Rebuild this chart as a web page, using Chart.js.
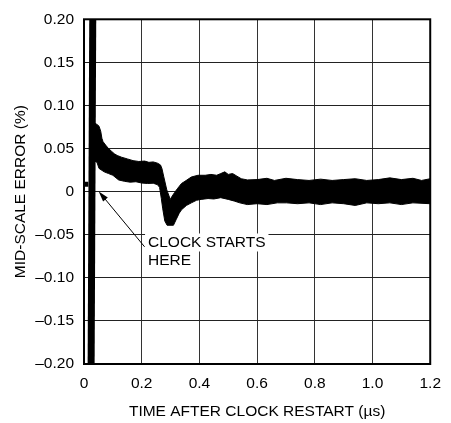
<!DOCTYPE html>
<html>
<head>
<meta charset="utf-8">
<script src="https://cdn.jsdelivr.net/npm/chart.js@4/dist/chart.umd.min.js"></script>
<style>
  html, body { margin: 0; padding: 0; background: #fff; }
  #wrap { width: 451px; height: 423px; }
</style>
</head>
<body>
<div id="wrap"><canvas id="c" width="451" height="423"></canvas></div>
<script>
// tick labels
const xTickLabels = ['0', '0.2', '0.4', '0.6', '0.8', '1.0', '1.2'];
const yTickLabels = ['\u20130.20', '\u20130.15', '\u20130.10', '\u20130.05', '0', '0.05', '0.10', '0.15', '0.20'];

// glitch when the clock restarts (runs off both ends of the scale)
const spikeX = [0.024, 0.031];
const spikeY = [-0.25, 0.25];

// upper edge of the noisy trace (time µs, error %)
const upperX = [0.034, 0.045, 0.052, 0.058, 0.062, 0.066, 0.075, 0.085, 0.095, 0.105, 0.115, 0.13, 0.15, 0.17, 0.19, 0.21, 0.225, 0.24, 0.255, 0.265, 0.27, 0.276, 0.287, 0.299, 0.306, 0.314, 0.325, 0.338, 0.35, 0.372, 0.395, 0.42, 0.44, 0.46, 0.474, 0.488, 0.50, 0.515, 0.53, 0.545, 0.566, 0.60, 0.634, 0.66, 0.70, 0.74, 0.78, 0.82, 0.86, 0.90, 0.94, 0.98, 1.02, 1.06, 1.10, 1.14, 1.17, 1.2];
const upperY = [0.080, 0.078, 0.076, 0.070, 0.062, 0.058, 0.054, 0.050, 0.047, 0.044, 0.042, 0.040, 0.038, 0.036, 0.035, 0.0355, 0.034, 0.0345, 0.033, 0.031, 0.027, 0.018, 0.002, -0.009, -0.005, -0.001, 0.004, 0.0095, 0.012, 0.017, 0.019, 0.019, 0.020, 0.019, 0.021, 0.023, 0.020, 0.021, 0.018, 0.015, 0.0136, 0.014, 0.0155, 0.013, 0.0155, 0.014, 0.013, 0.0145, 0.013, 0.014, 0.015, 0.013, 0.014, 0.016, 0.014, 0.0155, 0.013, 0.015];

// lower edge of the noisy trace
const lowerX = [0.034, 0.045, 0.052, 0.07, 0.085, 0.10, 0.12, 0.14, 0.16, 0.18, 0.20, 0.22, 0.24, 0.255, 0.262, 0.268, 0.273, 0.28, 0.288, 0.31, 0.32, 0.33, 0.338, 0.355, 0.372, 0.39, 0.406, 0.43, 0.45, 0.474, 0.50, 0.522, 0.54, 0.566, 0.60, 0.634, 0.67, 0.702, 0.74, 0.78, 0.82, 0.86, 0.90, 0.94, 0.98, 1.02, 1.06, 1.10, 1.14, 1.2];
const lowerY = [0.036, 0.034, 0.027, 0.023, 0.021, 0.019, 0.0136, 0.012, 0.011, 0.0115, 0.010, 0.0095, 0.0098, 0.008, 0.005, -0.008, -0.02, -0.034, -0.039, -0.039, -0.032, -0.025, -0.021, -0.016, -0.013, -0.010, -0.009, -0.008, -0.0085, -0.007, -0.009, -0.011, -0.013, -0.015, -0.014, -0.015, -0.013, -0.013, -0.014, -0.013, -0.015, -0.013, -0.014, -0.016, -0.013, -0.014, -0.013, -0.015, -0.013, -0.014];

// level before the clock restarts
const preX = [0, 0.015];
const preY = [0.0087, 0.0087];

// annotation "CLOCK STARTS HERE"
const noteLines = ['CLOCK STARTS', 'HERE'];
const noteAt = [0.222, -0.059];
const arrowFrom = [0.21, -0.064];
const arrowTo = [0.051, 0.0003];

const toPts = (xs, ys) => xs.map((x, i) => ({ x: x, y: ys[i] }));
const FONT = { family: "'Liberation Sans', Arial, sans-serif", size: 15.5 };

const extras = {
  id: 'extras',
  afterDraw(chart) {
    const { ctx, chartArea: a, scales: { x, y } } = chart;
    ctx.save();
    // frame
    ctx.strokeStyle = '#000';
    ctx.lineWidth = 2;
    ctx.strokeRect(a.left, a.top, a.right - a.left, a.bottom - a.top);

    // note text with white backing
    ctx.font = FONT.size + 'px ' + FONT.family;
    ctx.textBaseline = 'middle';
    ctx.textAlign = 'left';
    const tx = x.getPixelForValue(noteAt[0]);
    const ty = y.getPixelForValue(noteAt[1]);
    noteLines.forEach((t, i) => {
      const w = ctx.measureText(t).width;
      ctx.fillStyle = '#fff';
      ctx.fillRect(tx - 3, ty + i * 18 - 9, w + 6, 18);
    });
    ctx.fillStyle = '#000';
    noteLines.forEach((t, i) => ctx.fillText(t, tx, ty + i * 18));

    // arrow
    const x0 = x.getPixelForValue(arrowFrom[0]), y0 = y.getPixelForValue(arrowFrom[1]);
    const x1 = x.getPixelForValue(arrowTo[0]), y1 = y.getPixelForValue(arrowTo[1]);
    const ang = Math.atan2(y1 - y0, x1 - x0);
    ctx.strokeStyle = '#000';
    ctx.lineWidth = 1;
    ctx.beginPath();
    ctx.moveTo(x0, y0);
    ctx.lineTo(x1 - 6 * Math.cos(ang), y1 - 6 * Math.sin(ang));
    ctx.stroke();
    ctx.beginPath();
    ctx.moveTo(x1, y1);
    ctx.lineTo(x1 - 11 * Math.cos(ang - 0.28), y1 - 11 * Math.sin(ang - 0.28));
    ctx.lineTo(x1 - 11 * Math.cos(ang + 0.28), y1 - 11 * Math.sin(ang + 0.28));
    ctx.closePath();
    ctx.fillStyle = '#000';
    ctx.fill();
    ctx.restore();
  }
};

new Chart(document.getElementById('c'), {
  type: 'scatter',
  data: {
    datasets: [
      {
        data: toPts(upperX, upperY),
        showLine: true,
        borderColor: '#000',
        borderWidth: 1,
        backgroundColor: '#000',
        pointRadius: 0,
        fill: '+1'
      },
      {
        data: toPts(lowerX, lowerY),
        showLine: true,
        borderColor: '#000',
        borderWidth: 1,
        pointRadius: 0,
        fill: false
      },
      {
        data: toPts(spikeX, spikeY),
        showLine: true,
        borderColor: '#000',
        borderWidth: 7,
        pointRadius: 0,
        fill: false,
        clip: 0
      },
      {
        data: toPts(preX, preY),
        showLine: true,
        borderColor: '#000',
        borderWidth: 5,
        pointRadius: 0,
        fill: false
      }
    ]
  },
  options: {
    responsive: false,
    animation: false,
    layout: { padding: { top: 13, right: 15, left: 0, bottom: 0 } },
    plugins: { legend: { display: false }, tooltip: { enabled: false } },
    scales: {
      x: {
        type: 'linear',
        min: 0,
        max: 1.2,
        afterFit: (s) => { s.height = 59; },
        ticks: {
          stepSize: 0.2,
          padding: 10,
          color: '#000',
          font: FONT,
          maxRotation: 0,
          callback: (v, i) => xTickLabels[i]
        },
        grid: { color: '#333', lineWidth: 1, drawTicks: false },
        border: { display: false },
        title: {
          display: true,
          text: 'TIME AFTER CLOCK RESTART (\u00b5s)',
          color: '#000',
          font: FONT,
          padding: { top: 0, bottom: 2 }
        }
      },
      y: {
        type: 'linear',
        min: -0.2,
        max: 0.2,
        afterFit: (s) => { s.width = 84; },
        ticks: {
          stepSize: 0.05,
          padding: 10,
          color: '#000',
          font: FONT,
          callback: (v, i) => yTickLabels[i]
        },
        grid: { color: '#222', lineWidth: 1, drawTicks: false },
        border: { display: false },
        title: {
          display: true,
          text: 'MID-SCALE ERROR (%)',
          color: '#000',
          font: FONT,
          padding: { top: 11, bottom: 0 }
        }
      }
    }
  },
  plugins: [extras]
});
</script>
</body>
</html>
